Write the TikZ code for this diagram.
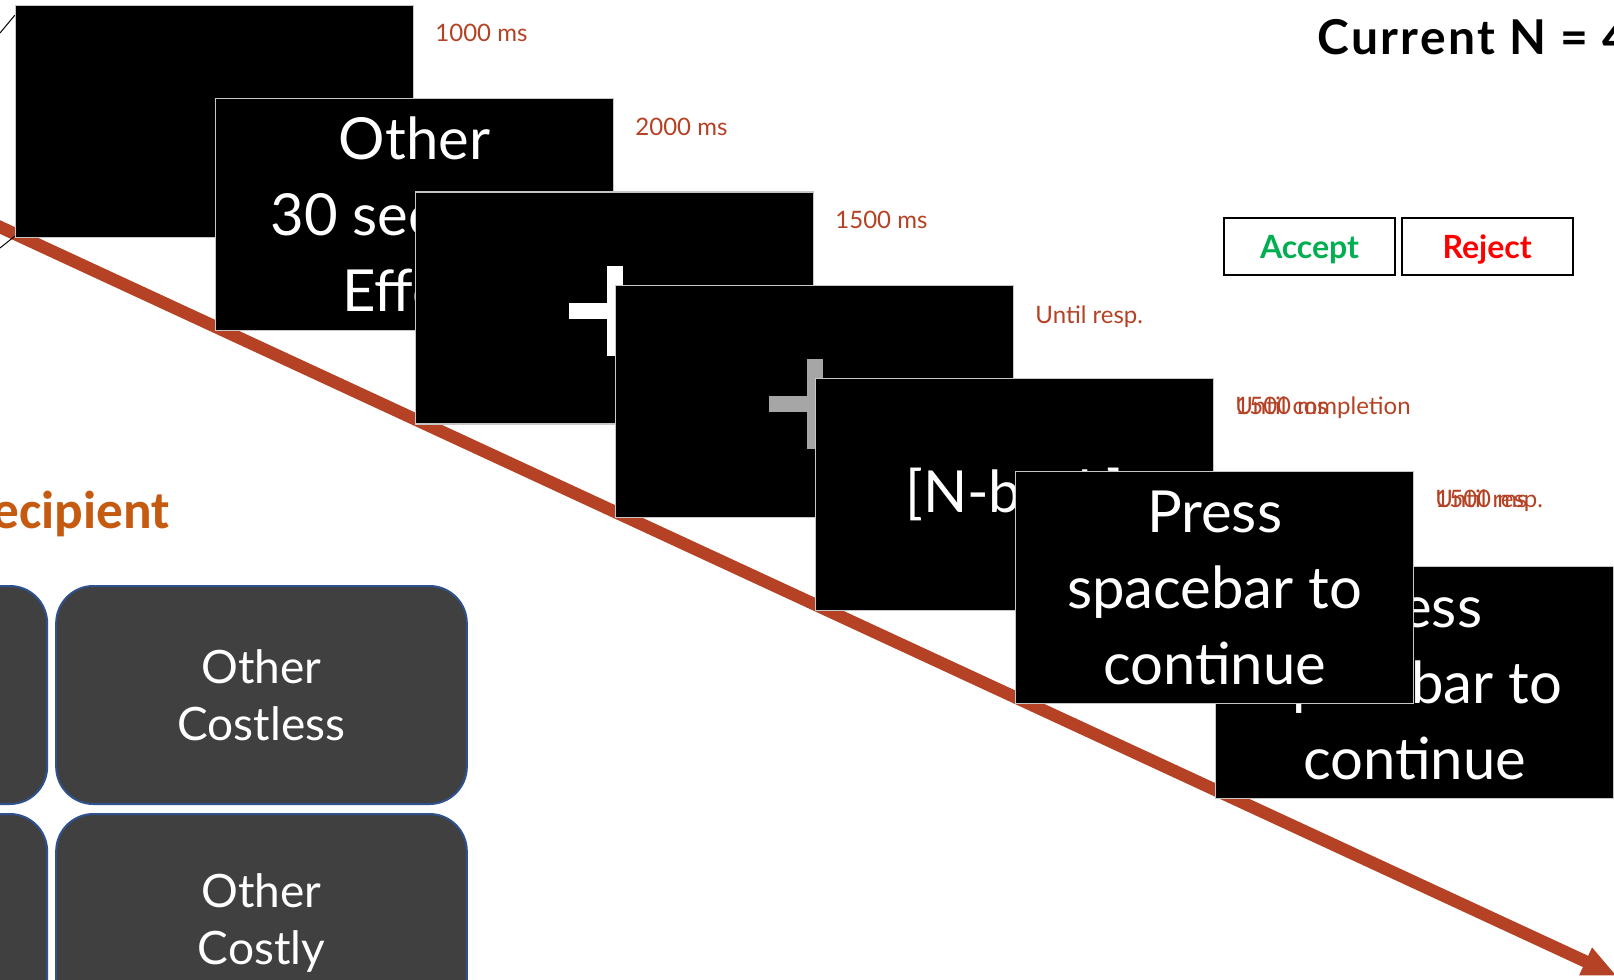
\documentclass[tikz,border=0pt]{standalone}
\usepackage{fontspec}
\setmainfont{Lato}
\newfontfamily\calibrifont{Carlito}
\definecolor{timered}{RGB}{181,66,36}
\definecolor{slidegray}{RGB}{64,64,64}
\definecolor{slideblue}{RGB}{47,82,143}
\definecolor{recipientorange}{RGB}{197,90,17}
\definecolor{acceptgreen}{RGB}{0,176,80}
\definecolor{rejectred}{RGB}{255,0,0}
\usetikzlibrary{arrows.meta,positioning,calc}

\begin{document}
\begin{tikzpicture}[x=0.75pt, y=-0.75pt,
  slide/.style={draw=black!22, line width=0.9pt, fill=black, text=white,
    minimum width=298.5pt, minimum height=174pt, inner sep=0pt, anchor=north west,
    align=center, font=\fontsize{43.5}{57}\selectfont},
  timing/.style={anchor=base west, inner sep=0pt, text=timered, font=\fontsize{18}{20}\selectfont},
  timeline/.style={draw=timered, line width=9.3pt, -{Triangle[length=26pt,width=21pt]}},
  choice/.style={draw=black, line width=1.5pt, minimum width=128pt, minimum height=43pt,
    inner sep=0pt, text height=18.6pt, text depth=0pt, font=\bfseries\fontsize{24}{28}\selectfont},
  cond/.style={draw=slideblue, line width=1.5pt, fill=slidegray, text=white, rounded corners=28pt,
    minimum width=308pt, minimum height=163.5pt, inner sep=0pt, align=center,
    font=\fontsize{34.5}{43}\selectfont}]
  \useasboundingbox (0,0) rectangle (1614,980);
  \fill[white] (0,0) rectangle (1614,980);
  \clip (0,0) rectangle (1614,980);

  % time axis behind the screens
  \coordinate (tstart) at (-10,222.4);
  \coordinate (tend) at (1617,976);
  \draw[timeline] (tstart) -- (tend);
  \draw[line width=0.75pt] (0,33) -- (15,15);
  \draw[line width=0.75pt] (0,248) -- (15,236);

  \node[slide] (slide1) at (15,5) {};
  \node[slide] (slide2) at (215,98.2) {Other\\30 seconds\\Effort};
  \node[slide] (slide3) at (415,191.4) {};
  \fill[white] ($(slide3.center)+(-46,-5)$) rectangle ($(slide3.center)+(46,11)$);
  \fill[white] ($(slide3.center)+(-8,-42)$) rectangle ($(slide3.center)+(8,48)$);
  \node[slide] (slide4) at (615,284.6) {};
  \fill[black!35] ($(slide4.center)+(-46,-5)$) rectangle ($(slide4.center)+(46,11)$);
  \fill[black!35] ($(slide4.center)+(-8,-42)$) rectangle ($(slide4.center)+(8,48)$);
  \node[slide] (slide5) at (815,377.8) {[N-back]};
  % last screen sits behind the one before it
  \node[slide] (slide7) at (1215,566) {Press\\spacebar to\\continue};
  \node[slide] (slide6) at (1015,471) {Press\\spacebar to\\continue};

  \node[timing] (time1) at ($(slide1.north east)+(21,37)$) {1000 ms};
  \node[timing] (time2) at ($(slide2.north east)+(21,37)$) {2000 ms};
  \node[timing] (time3) at ($(slide3.north east)+(21,37)$) {1500 ms};
  \node[timing] (time4) at ($(slide4.north east)+(21,39)$) {Until resp.};
  \node[timing] (time5a) at ($(slide5.north east)+(21,37)$) {1500 ms};
  \node[timing] (time5b) at ($(slide5.north east)+(21,37)$) {Until completion};
  \node[timing] (time6a) at ($(slide6.north east)+(21,37)$) {1500 ms};
  \node[timing] (time6b) at ($(slide6.north east)+(21,37)$) {Until resp.};

  \node[anchor=base west, inner sep=0pt,
        font=\bfseries\fontsize{36}{40}\selectfont\addfontfeature{LetterSpace=5}] (current) at (1317,55) {Current N = 4};
  \node[choice, text=acceptgreen] (accept) at (1309.5,246.5) {Accept};
  \node[choice, text=rejectred, right=3.75pt of accept] (reject) {Reject};

  \node[anchor=base east, inner sep=0pt, text=recipientorange,
        font=\calibrifont\bfseries\fontsize{40}{44}\selectfont] (recipient) at (170,528) {Recipient};
  \node[cond] (costless) at (261.5,695) {Other\\Costless};
  \node[cond, below=6pt of costless] (costly) {Other\\Costly};
  \node[cond, left=5.25pt of costless] (selfcostless) {};
  \node[cond, left=5.25pt of costly] (selfcostly) {};
\end{tikzpicture}
\end{document}
